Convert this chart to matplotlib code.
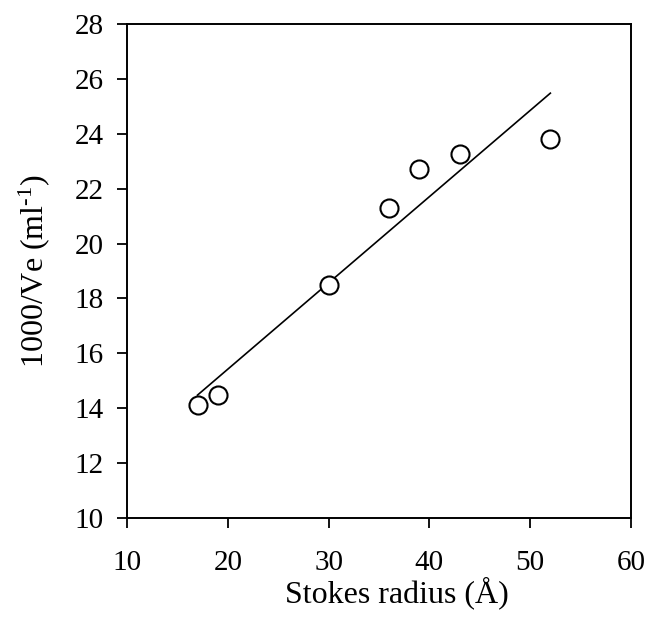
import matplotlib
matplotlib.use("Agg")
import matplotlib.pyplot as plt

plt.rcParams['font.family'] = ['Liberation Serif', 'DejaVu Serif']
plt.rcParams['mathtext.fontset'] = 'custom'
plt.rcParams['mathtext.rm'] = 'Liberation Serif'
plt.rcParams['mathtext.it'] = 'Liberation Serif:italic'

stokes_radius = [17, 19, 30, 36, 39, 43, 52]
inv_ve = [14.1, 14.5, 18.5, 21.3, 22.7, 23.25, 23.8]
fit_x = [17, 52]
fit_y = [14.48, 25.48]
x_ticks = [10, 20, 30, 40, 50, 60]
y_ticks = [10, 12, 14, 16, 18, 20, 22, 24, 26, 28]

fig = plt.figure(figsize=(6.49, 6.29), dpi=100)
ax = fig.add_axes([127/649, 1 - 518/629, (631-127)/649, (518-24)/629])

ax.plot(fit_x, fit_y, color='black', lw=1.2, zorder=2)
ax.plot(stokes_radius, inv_ve, linestyle='none', marker='o', ms=13,
        mfc='white', mec='black', mew=1.5, zorder=3)

ax.set_xlim(10, 60)
ax.set_ylim(10, 28)
ax.set_xticks(x_ticks)
ax.set_yticks(y_ticks)
ax.tick_params(direction='out', length=7, width=1.3, labelsize=21)
ax.tick_params(axis='x', pad=16)
ax.tick_params(axis='y', pad=10)
for s in ax.spines.values():
    s.set_linewidth(1.4)

ax.set_xlabel('Stokes radius (Å)', fontsize=23, labelpad=0, x=0.536)
ax.set_ylabel('1000/Ve (ml$^{\\mathrm{\u20101}}$)', fontsize=23, labelpad=16)

fig.savefig('out.png', dpi=100)
